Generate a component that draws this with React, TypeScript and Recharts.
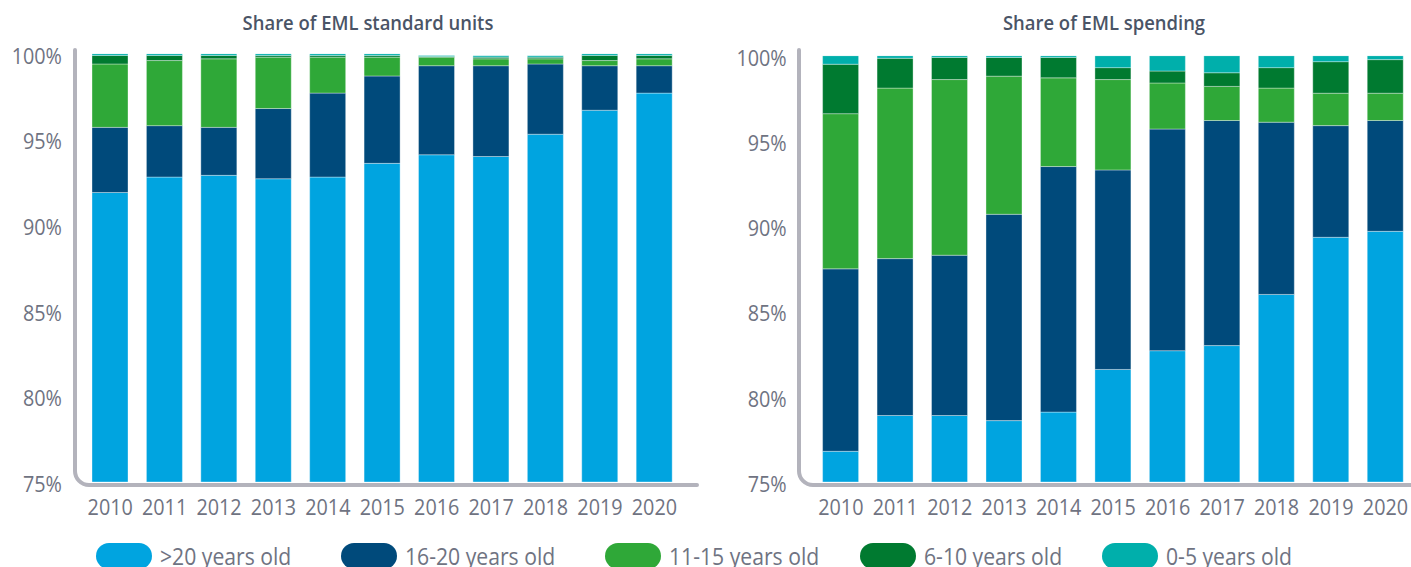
import React from 'react';
import { BarChart, Bar, XAxis, YAxis, Customized } from 'recharts';

// ---------- data ----------
const YEARS = ['2010', '2011', '2012', '2013', '2014', '2015', '2016', '2017', '2018', '2019', '2020'];

const SERIES_KEYS = ['g20', 'g16', 'g11', 'g6', 'g0'];
const SERIES_NAMES = ['>20 years old', '16-20 years old', '11-15 years old', '6-10 years old', '0-5 years old'];
const SERIES_COLORS = ['#00a4e0', '#004a7b', '#2fa838', '#007a30', '#00afab'];

// Share of EML standard units (segment shares, %)
const UNITS_GT20 = [91.9, 92.8, 92.9, 92.7, 92.8, 93.6, 94.1, 94.0, 95.3, 96.7, 97.7];
const UNITS_16_20 = [3.8, 3.0, 2.8, 4.1, 4.9, 5.1, 5.2, 5.3, 4.1, 2.6, 1.6];
const UNITS_11_15 = [3.7, 3.8, 4.0, 3.0, 2.1, 1.1, 0.5, 0.4, 0.3, 0.3, 0.4];
const UNITS_6_10 = [0.5, 0.3, 0.2, 0.1, 0.1, 0.1, 0.04, 0.1, 0.1, 0.3, 0.2];
const UNITS_0_5 = [0.1, 0.1, 0.1, 0.1, 0.1, 0.1, 0.05, 0.08, 0.08, 0.1, 0.1];

// Share of EML spending (segment shares, %)
const SPEND_GT20 = [76.8, 78.9, 78.9, 78.6, 79.1, 81.6, 82.7, 83.0, 86.0, 89.35, 89.7];
const SPEND_16_20 = [10.7, 9.2, 9.4, 12.1, 14.4, 11.7, 13.0, 13.2, 10.1, 6.55, 6.5];
const SPEND_11_15 = [9.1, 10.0, 10.3, 8.1, 5.2, 5.3, 2.7, 2.0, 2.0, 1.9, 1.6];
const SPEND_6_10 = [2.9, 1.75, 1.3, 1.1, 1.2, 0.7, 0.7, 0.8, 1.2, 1.85, 1.97];
const SPEND_0_5 = [0.5, 0.15, 0.1, 0.1, 0.1, 0.7, 0.9, 1.0, 0.7, 0.35, 0.23];

const Y_TICKS = [75, 80, 85, 90, 95, 100];
const Y_DOMAIN = [75, 100];

const TITLES = ['Share of EML standard units', 'Share of EML spending'];

function buildRows(series: number[][]) {
  return YEARS.map((year, i) => {
    const row: Record<string, string | number> = { year };
    SERIES_KEYS.forEach((k, s) => {
      row[k] = series[s][i];
    });
    return row;
  });
}

const unitsData = buildRows([UNITS_GT20, UNITS_16_20, UNITS_11_15, UNITS_6_10, UNITS_0_5]);
const spendData = buildRows([SPEND_GT20, SPEND_16_20, SPEND_11_15, SPEND_6_10, SPEND_0_5]);

// ---------- styling / layout ----------
const FONT = '"Open Sans", "Noto Sans", sans-serif';
const TICK_COLOR = '#6f7382';
const TITLE_COLOR = '#4a5466';
const FRAME_COLOR = '#b3b3bc';
const CHART_H = 530;
const LEGEND_SLOTS = [245, 264, 255, 242, 260];

const YTick = (props: any) => {
  const { x, y, payload } = props;
  return (
    <text
      x={x}
      y={y}
      dy={10}
      textAnchor="end"
      fontSize={22}
      fontFamily={FONT}
      fill={TICK_COLOR}
      style={{ transformBox: 'fill-box', transformOrigin: 'right center', transform: 'scaleX(0.9)' } as any}
    >
      {payload.value}%
    </text>
  );
};

const XTick = (props: any) => {
  const { x, y, payload } = props;
  return (
    <text
      x={x}
      y={y}
      dy={33}
      textAnchor="middle"
      fontSize={22}
      fontFamily={FONT}
      fill={TICK_COLOR}
      style={{ transformBox: 'fill-box', transformOrigin: 'center', transform: 'scaleX(0.9)' } as any}
    >
      {payload.value}
    </text>
  );
};

const Frame = ({ fx, fEnd, title, titleX }: { fx: number; fEnd: number; title: string; titleX: number }) => {
  const top = 50;
  const bottom = 485;
  const r = 14;
  const d = `M ${fx} ${top} L ${fx} ${bottom - r} A ${r} ${r} 0 0 0 ${fx + r} ${bottom} L ${fEnd} ${bottom}`;
  return (
    <g>
      <path d={d} fill="none" stroke={FRAME_COLOR} strokeWidth={4} strokeLinecap="round" />
      <text
        x={titleX}
        y={30}
        textAnchor="middle"
        fontSize={20.5}
        fontWeight={600}
        fontFamily={FONT}
        fill={TITLE_COLOR}
        style={{ transformBox: 'fill-box', transformOrigin: 'center', transform: 'scaleX(0.9)' } as any}
      >
        {title}
      </text>
    </g>
  );
};

type PanelCfg = {
  data: any[];
  left: number;
  width: number;
  margin: { top: number; right: number; bottom: number; left: number };
  tickMargin: number;
  fx: number;
  fEnd: number;
  title: string;
  titleX: number;
};

const panels: PanelCfg[] = [
  {
    data: unitsData,
    left: 0,
    width: 705,
    margin: { top: 53.7, right: 23.4, bottom: 18, left: 23 },
    tickMargin: 21,
    fx: 75,
    fEnd: 697,
    title: TITLES[0],
    titleX: 368,
  },
  {
    data: spendData,
    left: 705,
    width: 720,
    margin: { top: 55.7, right: 12.3, bottom: 18, left: 48.6 },
    tickMargin: 26.9,
    fx: 94,
    fEnd: 712,
    title: TITLES[1],
    titleX: 399,
  },
];

const Panel = ({ cfg }: { cfg: PanelCfg }) => (
  <div style={{ position: 'absolute', left: cfg.left, top: 0 }}>
    <BarChart width={cfg.width} height={CHART_H} data={cfg.data} margin={cfg.margin} barSize={36}>
      <Customized component={<Frame fx={cfg.fx} fEnd={cfg.fEnd} title={cfg.title} titleX={cfg.titleX} />} />
      <XAxis
        dataKey="year"
        axisLine={false}
        tickLine={false}
        tickSize={0}
        tickMargin={0}
        height={30}
        interval={0}
        tick={<XTick />}
      />
      <YAxis
        type="number"
        domain={Y_DOMAIN}
        ticks={Y_TICKS}
        allowDataOverflow
        axisLine={false}
        tickLine={false}
        tickSize={0}
        tickMargin={cfg.tickMargin}
        width={60}
        interval={0}
        tick={<YTick />}
      />
      {SERIES_KEYS.map((k, i) => (
        <Bar
          key={k}
          dataKey={k}
          name={SERIES_NAMES[i]}
          stackId="s"
          fill={SERIES_COLORS[i]}
          stroke="#ffffff"
          strokeOpacity={0.35}
          strokeWidth={1}
          isAnimationActive={false}
        />
      ))}
    </BarChart>
  </div>
);

export default function App() {
  return (
    <div
      style={{
        position: 'absolute',
        left: 0,
        top: 0,
        width: 1411,
        height: 567,
        overflow: 'hidden',
        background: '#ffffff',
        fontFamily: FONT,
      }}
    >
      {panels.map((p, i) => (
        <Panel key={i} cfg={p} />
      ))}
      <div
        style={{
          position: 'absolute',
          left: 96,
          top: 543,
          display: 'flex',
          alignItems: 'center',
          whiteSpace: 'nowrap',
        }}
      >
        {SERIES_NAMES.map((name, i) => (
          <div
            key={name}
            style={{ display: 'flex', alignItems: 'center', width: LEGEND_SLOTS[i], flex: 'none' }}
          >
            <span
              style={{
                display: 'inline-block',
                width: 56,
                height: 26,
                borderRadius: 13,
                background: SERIES_COLORS[i],
                marginRight: 8,
                flex: 'none',
              }}
            />
            <span
              style={{
                display: 'inline-block',
                fontSize: 23,
                lineHeight: '26px',
                color: TICK_COLOR,
                transform: 'scaleX(0.92)',
                transformOrigin: 'left center',
              }}
            >
              {name}
            </span>
          </div>
        ))}
      </div>
    </div>
  );
}
